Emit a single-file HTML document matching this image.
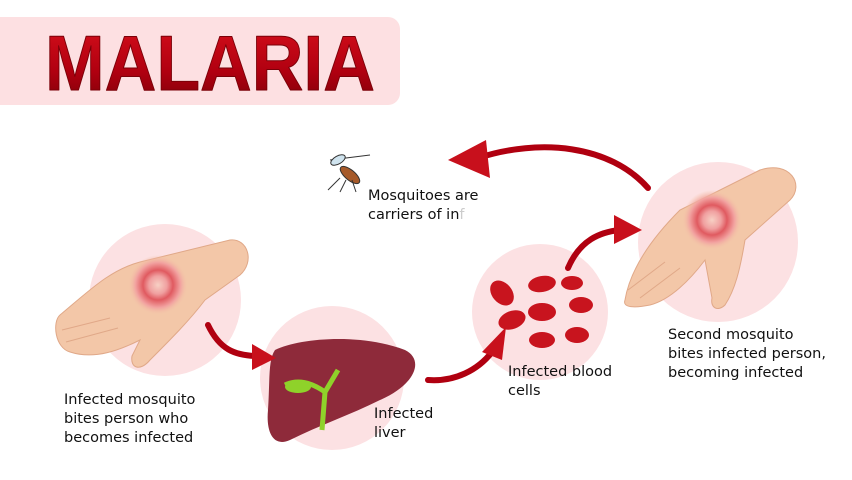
<!DOCTYPE html>
<html><head><meta charset="utf-8"><style>
body{margin:0;width:852px;height:480px;background:#fff;overflow:hidden;font-family:"Liberation Sans",sans-serif}
svg{position:absolute;left:0;top:0}
.t{font-family:"DejaVu Sans","Liberation Sans",sans-serif;font-size:14.5px;fill:#111}
</style></head><body>
<svg width="852" height="480" viewBox="0 0 852 480">
<defs>
<linearGradient id="tg" x1="0" y1="0" x2="0" y2="1"><stop offset="0" stop-color="#d8101c"/><stop offset="0.6" stop-color="#b00010"/><stop offset="1" stop-color="#7a0008"/></linearGradient>
<radialGradient id="sp"><stop offset="0" stop-color="#f7d0c4"/><stop offset="0.3" stop-color="#f0a0a0"/><stop offset="0.5" stop-color="#e05a60"/><stop offset="0.75" stop-color="#f2a2a0"/><stop offset="1" stop-color="#f3c7a8" stop-opacity="0"/></radialGradient>
</defs>
<path d="M0 17 H388 a12 12 0 0 1 12 12 V93 a12 12 0 0 1 -12 12 H0Z" fill="#fde0e2"/>
<text x="45" y="90" font-family="Liberation Sans" font-weight="bold" font-size="78" fill="url(#tg)" stroke="#7a0008" stroke-width="1" stroke-linejoin="round" textLength="330" lengthAdjust="spacingAndGlyphs">MALARIA</text>
<circle cx="165" cy="300" r="76" fill="#fce1e3"/>
<circle cx="332" cy="378" r="72" fill="#fce1e3"/>
<circle cx="540" cy="312" r="68" fill="#fce1e3"/>
<circle cx="718" cy="242" r="80" fill="#fce1e3"/>
<!-- left hand -->
<path d="M60 315 C90 290 110 270 140 262 L230 240 C248 238 255 262 240 275 L205 300 C190 320 170 340 150 360 C140 372 130 368 132 356 L140 340 C120 350 95 360 70 352 C55 348 52 322 60 315Z" fill="#f3c7a8" stroke="#e0a888" stroke-width="1"/>
<g stroke="#e0a888" stroke-width="1" fill="none"><path d="M62 330 L110 318"/><path d="M66 342 L118 328"/></g>
<circle cx="158" cy="285" r="30" fill="url(#sp)"/>
<!-- right hand -->
<path d="M625 300 C630 270 650 240 680 210 L760 170 C790 160 805 185 790 200 L745 240 C740 270 735 290 725 305 C718 312 710 308 712 298 L705 260 C690 280 670 300 650 305 C635 308 622 308 625 300Z" fill="#f3c7a8" stroke="#e0a888" stroke-width="1"/>
<g stroke="#e0a888" stroke-width="1" fill="none"><path d="M628 290 L665 262"/><path d="M640 298 L680 268"/></g>
<circle cx="712" cy="220" r="30" fill="url(#sp)"/>
<!-- liver -->
<path d="M275 350 C300 338 360 333 405 350 C425 360 415 385 380 400 C350 415 320 425 290 440 C272 448 266 430 268 410 C270 380 268 360 275 350Z" fill="#8e2a3a"/>
<path d="M285 385 C300 378 315 385 325 392 L338 370 M325 392 L322 430" stroke="#8fd22a" stroke-width="5" fill="none"/>
<ellipse cx="298" cy="387" rx="13" ry="6" fill="#8fd22a"/>
<!-- blood cells -->
<g fill="#c8141e">
<ellipse cx="502" cy="293" rx="10" ry="14" transform="rotate(-40 502 293)"/>
<ellipse cx="542" cy="284" rx="14" ry="8" transform="rotate(-10 542 284)"/>
<ellipse cx="572" cy="283" rx="11" ry="7"/>
<ellipse cx="512" cy="320" rx="14" ry="9" transform="rotate(-20 512 320)"/>
<ellipse cx="542" cy="312" rx="14" ry="9"/>
<ellipse cx="581" cy="305" rx="12" ry="8"/>
<ellipse cx="542" cy="340" rx="13" ry="8"/>
<ellipse cx="577" cy="335" rx="12" ry="8"/>
</g>
<!-- arrows -->
<g fill="none" stroke="#b00010" stroke-width="6" stroke-linecap="round">
<path d="M208 325 C220 350 235 355 255 356"/>
<path d="M428 380 C455 382 478 370 492 352"/>
<path d="M568 268 C580 240 600 232 620 230"/>
<path d="M648 188 C610 145 540 138 478 158"/>
</g>
<g fill="#c8101c">
<path d="M252 344 L276 358 L252 370Z"/>
<path d="M482 352 L506 327 L502 360Z"/>
<path d="M614 215 L642 230 L614 244Z"/>
<path d="M486 140 L448 160 L490 178Z"/>
</g>
<!-- mosquito -->
<g stroke="#333" stroke-width="1" fill="none">
<line x1="330" y1="160" x2="370" y2="155"/>
<ellipse cx="350" cy="175" rx="12" ry="5" fill="#a65a2a" transform="rotate(40 350 175)"/>
<ellipse cx="338" cy="160" rx="8" ry="4" fill="#cfe3ee" transform="rotate(-30 338 160)"/>
<line x1="340" y1="178" x2="328" y2="190"/><line x1="346" y1="180" x2="340" y2="192"/><line x1="352" y1="180" x2="356" y2="192"/>
</g>
<text class="t" x="368" y="200">Mosquitoes are</text>
<text class="t" x="368" y="219">carriers of in<tspan fill="#ccc">f</tspan></text>
<text class="t" x="64" y="404">Infected mosquito</text>
<text class="t" x="64" y="423">bites person who</text>
<text class="t" x="64" y="442">becomes infected</text>
<text class="t" x="374" y="418">Infected</text>
<text class="t" x="374" y="437">liver</text>
<text class="t" x="508" y="376">Infected blood</text>
<text class="t" x="508" y="395">cells</text>
<text class="t" x="668" y="339">Second mosquito</text>
<text class="t" x="668" y="358">bites infected person,</text>
<text class="t" x="668" y="377">becoming infected</text>
</svg>
</body></html>
